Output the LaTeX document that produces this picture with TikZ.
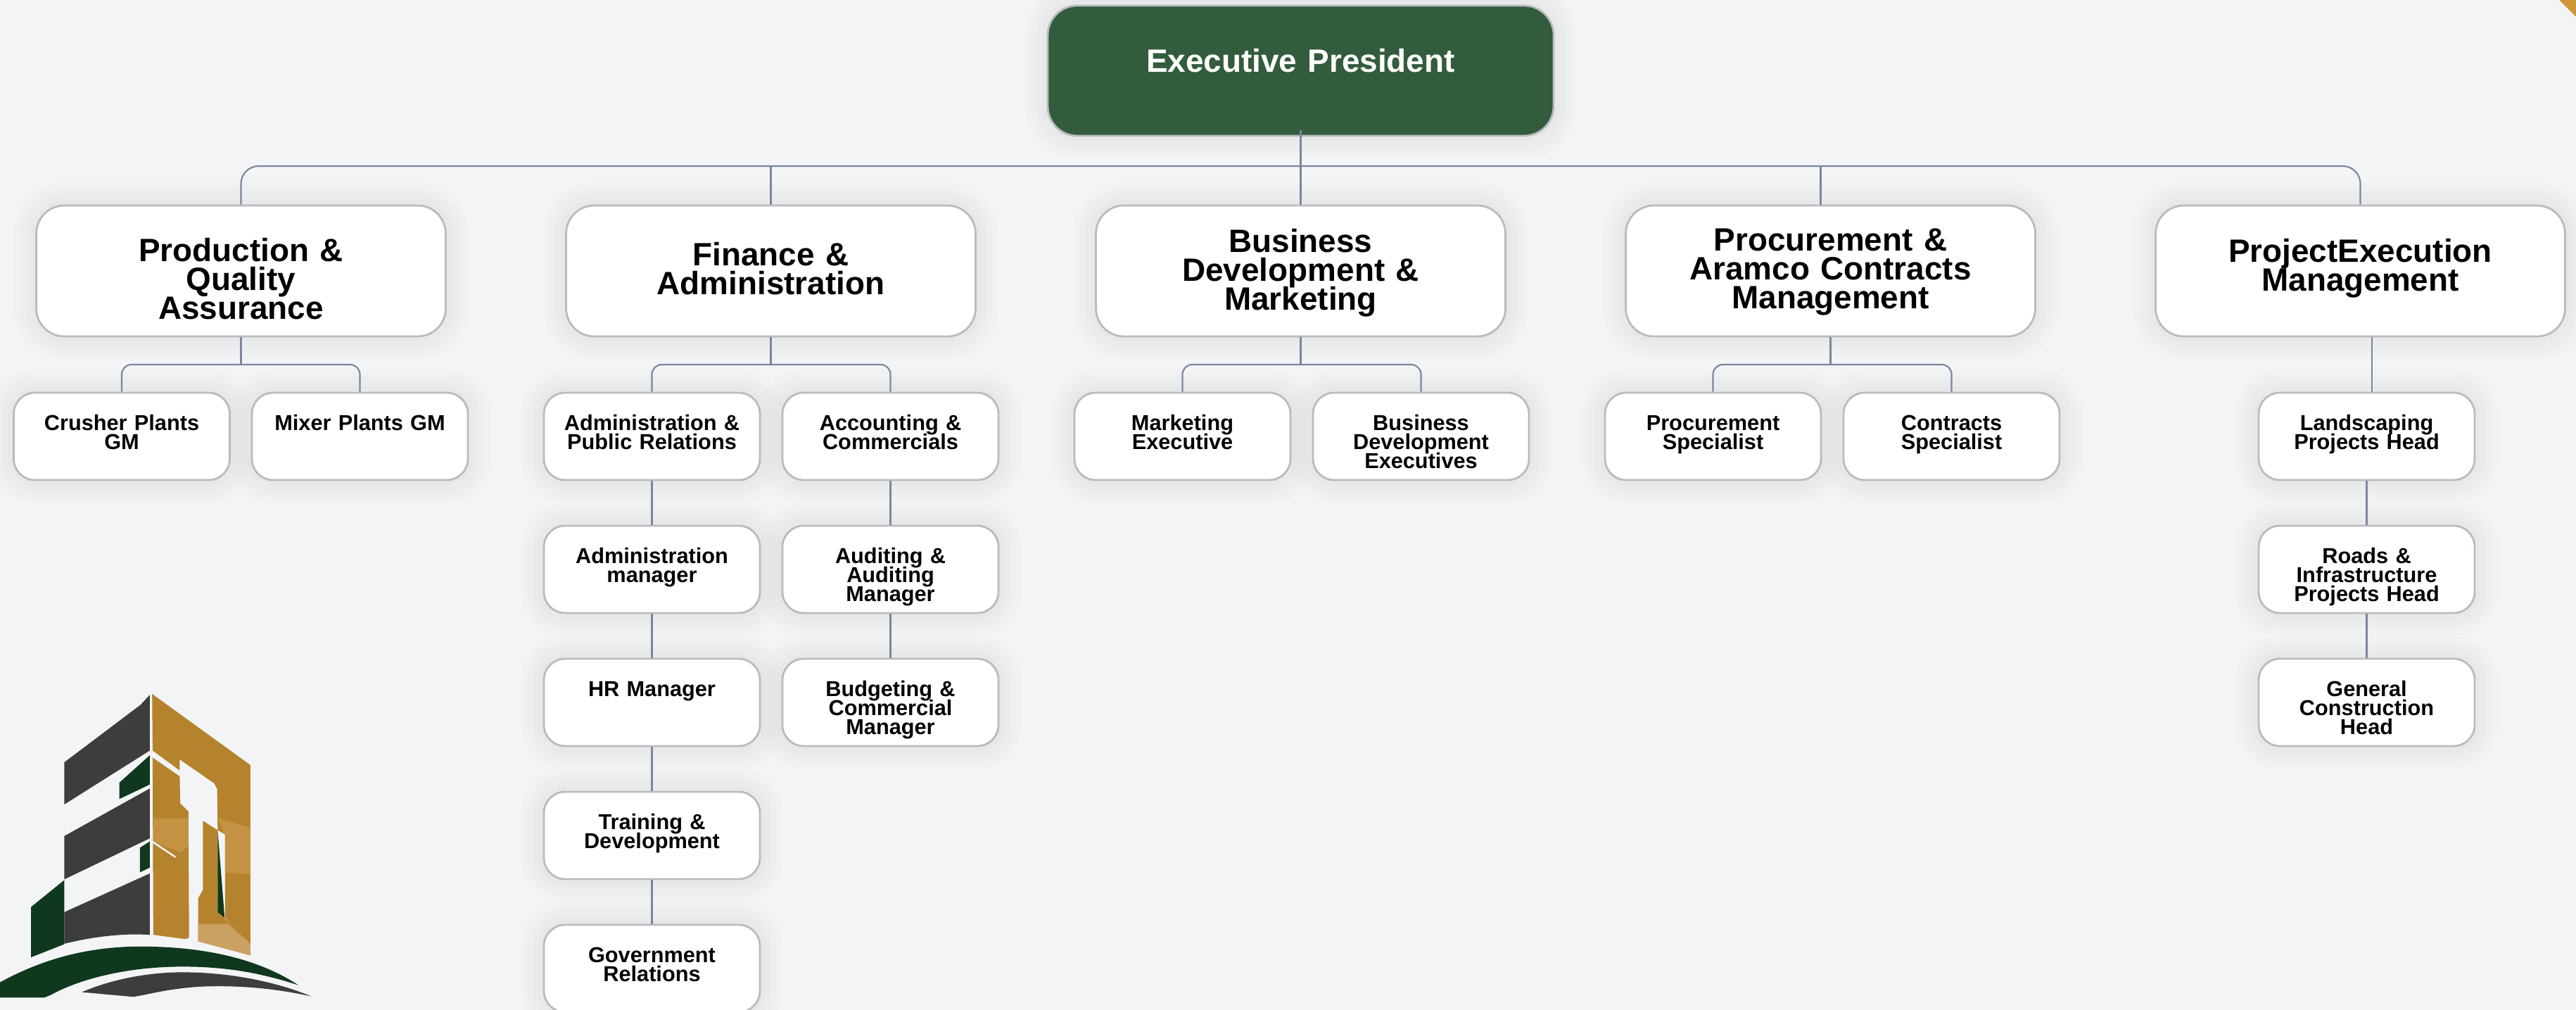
\documentclass[tikz,border=0pt]{standalone}
\usepackage{fontspec}
\setmainfont{Liberation Sans}
\usetikzlibrary{positioning}
\lineskiplimit=-20pt
\normallineskiplimit=-20pt
\definecolor{pagebg}{HTML}{F3F4F6}
\definecolor{presgreen}{HTML}{335C3D}
\definecolor{edgegray}{HTML}{BABBBE}
\definecolor{linkblue}{HTML}{7A859F}
\definecolor{logogray}{HTML}{3D3D3D}
\definecolor{logogreen}{HTML}{10381E}
\definecolor{logogold}{HTML}{B5832E}
\definecolor{logolight}{HTML}{C39343}
\definecolor{logotip}{HTML}{CBA162}
\definecolor{cornergold}{HTML}{CF9838}
\tikzstyle{glow} =[preaction={draw=black,draw opacity=.01,line width=.64cm},preaction={draw=black,draw opacity=.01,line width=.48cm},preaction={draw=black,draw opacity=.01,line width=.32cm},preaction={draw=black,draw opacity=.01,line width=.16cm}]
\tikzstyle{pres} =[glow, rectangle, rounded corners=.42cm, minimum width=7.19cm, minimum height=1.85cm, text width=7cm, text height=.5cm, text depth=.46cm, inner sep=0pt, align=center, draw=edgegray, line width=.8pt, fill=presgreen, text=white, font=\bfseries\fontsize{13.05}{12}\selectfont]
\tikzstyle{dept} =[glow, rectangle, rounded corners=.4cm, minimum width=5.82cm, minimum height=1.86cm, text width=5.6cm, text height=.5cm, inner sep=0pt, align=center, draw=edgegray, line width=.8pt, fill=white, font=\bfseries\fontsize{13.05}{11.6}\selectfont]
\tikzstyle{staff} =[glow, rectangle, rounded corners=.3cm, minimum width=3.07cm, minimum height=1.24cm, text width=3cm, text height=.3cm, text depth=.46cm, inner sep=0pt, align=center, draw=edgegray, line width=.8pt, fill=white, font=\bfseries\fontsize{8.74}{7.66}\selectfont]
\tikzstyle{link} =[draw=linkblue, line width=.6pt]
\tikzstyle{fork} =[link, rounded corners=.14cm]
\begin{document}
\begin{tikzpicture}[node distance=1.89cm]
\useasboundingbox (0,0) rectangle (36.61,14.35);
\fill [pagebg] (0,0) rectangle (36.61,14.35);
\fill [cornergold] (36.37,14.35)--(36.61,14.35)--(36.61,14.11)--cycle;

\begin{scope}[x=.00333cm, y=-.00333cm, yshift=4.85cm]
\fill [logogray] (640,112)--(600,155)--(275,400)--(275,580)--(640,350)--cycle;
\fill [logogreen] (640,370)--(510,487)--(510,557)--(640,495)--cycle;
\fill [logogray] (640,512)--(275,715)--(275,900)--(640,725)--cycle;
\fill [logogreen] (640,738)--(598,765)--(598,870)--(640,850)--cycle;
\fill [logogray] (640,875)--(275,1040)--(275,1175).. controls (400,1145) and (520,1130) .. (640,1137)--cycle;
\fill [logogreen] (275,903)--(133,1018)--(133,1233)--(275,1177)--cycle;
\fill [logogold] (650,108)--(1070,412)--(1070,1178)--(975,1080)--(962,1065)--(962,708)--(930,690)--(928,515)--(915,490)--(768,388)--(768,435)--(652,350)--cycle;
\fill [logogold] (652,380)--(768,460)--(770,575)--(805,610)--(808,1150)--(790,1155)--(655,1137)--cycle;
\fill [logolight] (655,640)--(805,640)--(805,760)--(770,785)--(655,740)--cycle;
\fill [logolight] (930,640)--(1070,680)--(1070,880)--(962,870)--(962,708)--cycle;
\draw [pagebg, line width=.7pt] (652,740)--(750,805);
\fill [logogold] (867,650)--(930,690)--(930,1040)--(975,1080)--(1070,1180)--(1070,1225)--(847,1165)--(847,980)--(867,945)--cycle;
\fill [logotip] (847,1090)--(975,1090)--(1070,1180)--(1070,1225)--(847,1165)--cycle;
\fill [logogreen] (930,690)--(960,1065)--(930,1040)--cycle;
\fill [logogreen] (0,1340).. controls (200,1230) and (400,1187) .. (600,1187).. controls (900,1187) and (1120,1250) .. (1275,1352).. controls (1100,1295) and (950,1273) .. (780,1273).. controls (560,1273) and (350,1320) .. (215,1395)--(190,1405)--(0,1405)--cycle;
\fill [logogray] (350,1382).. controls (480,1325) and (640,1297) .. (780,1297).. controls (1000,1297) and (1200,1345) .. (1330,1400).. controls (1150,1360) and (1000,1355) .. (900,1357).. controls (800,1358) and (700,1375) .. (610,1395)--(570,1402)--cycle;
\end{scope}

\node (top) [pres] at (18.485,13.345) {Executive President};
\node (dep3) [dept, below of=top, node distance=2.845cm, text depth=1.02cm] {Business\\Development \&\\Marketing};
\node (dep2) [dept, left of=dep3, node distance=7.53cm, text depth=.64cm] {Finance \&\\Administration};
\node (dep1) [dept, left of=dep2, node distance=7.53cm, text depth=.76cm] {Production \&\\Quality\\Assurance};
\node (dep4) [dept, right of=dep3, node distance=7.53cm, text depth=1.06cm] {Procurement \&\\Aramco Contracts\\Management};
\node (dep5) [dept, right of=dep4, node distance=7.53cm, text depth=.74cm] {ProjectExecution\\Management};

\node (sub11) [staff, below of=dep1, node distance=2.35cm, xshift=-1.695cm] {Crusher Plants\\GM};
\node (sub12) [staff, below of=dep1, node distance=2.35cm, xshift=1.69cm] {Mixer Plants GM};

\node (sub21) [staff, below of=dep2, node distance=2.35cm, xshift=-1.69cm] {Administration \&\\Public Relations};
\node (sub22) [staff, below of=sub21] {Administration\\manager};
\node (sub23) [staff, below of=sub22] {HR Manager};
\node (sub24) [staff, below of=sub23] {Training \&\\Development};
\node (sub25) [staff, below of=sub24] {Government\\Relations};

\node (sub26) [staff, below of=dep2, node distance=2.35cm, xshift=1.7cm] {Accounting \&\\Commercials};
\node (sub27) [staff, below of=sub26] {Auditing \&\\Auditing\\Manager};
\node (sub28) [staff, below of=sub27] {Budgeting \&\\Commercial\\Manager};

\node (sub31) [staff, below of=dep3, node distance=2.35cm, xshift=-1.68cm] {Marketing\\Executive};
\node (sub32) [staff, below of=dep3, node distance=2.35cm, xshift=1.71cm] {Business\\Development\\Executives};

\node (sub41) [staff, below of=dep4, node distance=2.35cm, xshift=-1.67cm] {Procurement\\Specialist};
\node (sub42) [staff, below of=dep4, node distance=2.35cm, xshift=1.72cm] {Contracts\\Specialist};

\node (sub51) [staff, below of=dep5, node distance=2.35cm, xshift=.09cm] {Landscaping\\Projects Head};
\node (sub52) [staff, below of=sub51] {Roads \&\\Infrastructure\\Projects Head};
\node (sub53) [staff, below of=sub52] {General\\Construction\\Head};

\coordinate [above of=dep3, node distance=1.49cm] (bar);
\coordinate [below of=dep1, node distance=1.33cm] (fork1);
\coordinate [below of=dep2, node distance=1.33cm] (fork2);
\coordinate [below of=dep3, node distance=1.33cm] (fork3);
\coordinate [below of=dep4, node distance=1.33cm] (fork4);

\draw [link] ([yshift=.09cm]top.south)--(dep3.north);
\draw [fork, rounded corners=.25cm] (dep1.north)|-(bar)-|(dep5.north);
\draw [link] (dep2.north)--(dep2.north |- bar);
\draw [link] ([xshift=-.14cm]dep4.north)--([xshift=-.14cm]dep4.north |- bar);

\draw [link] (dep1.south)--(fork1);
\draw [fork] (sub11.north)|-(fork1)-|(sub12.north);
\draw [link] (dep2.south)--(fork2);
\draw [fork] (sub21.north)|-(fork2)-|(sub26.north);
\draw [link] (dep3.south)--(fork3);
\draw [fork] (sub31.north)|-(fork3)-|(sub32.north);
\draw [link] (dep4.south)--(fork4);
\draw [fork] (sub41.north)|-(fork4)-|(sub42.north);
\draw [link] ([xshift=.07cm]sub51.north)--([xshift=.07cm]sub51.north |- dep5.south);

\draw [link] (sub21)--(sub22);
\draw [link] (sub22)--(sub23);
\draw [link] (sub23)--(sub24);
\draw [link] (sub24)--(sub25);
\draw [link] (sub26)--(sub27);
\draw [link] (sub27)--(sub28);
\draw [link] (sub51)--(sub52);
\draw [link] (sub52)--(sub53);
\end{tikzpicture}
\end{document}
